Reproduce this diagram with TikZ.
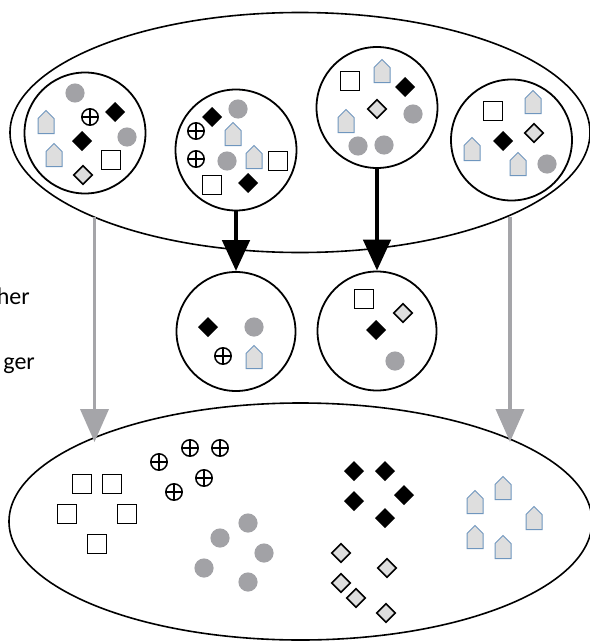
\documentclass[tikz,border=0pt]{standalone}
\usepackage{fontspec}
\setmainfont{Carlito}
\usetikzlibrary{shapes.geometric,arrows.meta}
\definecolor{dotgray}{HTML}{A2A2A6}
\definecolor{arrgray}{HTML}{A5A5A9}
\definecolor{lgray}{HTML}{DEDEDE}
\definecolor{hblue}{HTML}{6F96BE}
\tikzset{
  bigell/.style={ellipse, draw=black, line width=1.6pt, inner sep=0pt},
  grp/.style={circle, draw=black, line width=1.8pt, inner sep=0pt, minimum size=121pt},
  blkarrow/.style={line width=4.8pt, -{Triangle[length=31pt,width=27pt]}},
  grayarrow/.style={draw=arrgray, line width=3.8pt, -{Triangle[length=33pt,width=28pt]}},
  lbl/.style={inner sep=0pt, font=\fontsize{24}{28}\selectfont},
  gdot/.pic={\fill[dotgray] (0,0) circle (9.6);},
  bdia/.pic={\fill[black] (0,-10)--(10,0)--(0,10)--(-10,0)--cycle;},
  ldia/.pic={\filldraw[fill=lgray, draw=black, line width=1.6pt, line join=miter] (0,-9.3)--(9.3,0)--(0,9.3)--(-9.3,0)--cycle;},
  sqr/.pic={\filldraw[fill=white, draw=black, line width=1.8pt] (-9.5,-9.5) rectangle (9.5,9.5);},
  opl/.pic={\filldraw[fill=white, draw=black, line width=1.5pt] (0,0) circle (8.2);
            \draw[line width=1.3pt] (-8.2,0)--(8.2,0) (0,-8.2)--(0,8.2);},
  hse/.pic={\filldraw[fill=lgray, draw=hblue, line width=1pt] (-8,11.5)--(8,11.5)--(8,-3.5)--(0,-11.5)--(-8,-3.5)--cycle;}
}
\begin{document}
\begin{tikzpicture}[x=1pt,y=-1pt]
\useasboundingbox (0,0) rectangle (589,642);

% big ellipses
\node[bigell, minimum width=580pt, minimum height=240pt] (topE) at (300,132.5) {};
\node[bigell, minimum width=583pt, minimum height=237pt] (botE) at (300.5,521.5) {};

% group circles
\node[grp] (C1) at (85,133) {};
\node[grp] (C2) at (236,150) {};
\node[grp] (C3) at (377,107.5) {};
\node[grp] (C4) at (511.5,140) {};
\node[grp, minimum size=119pt] (M1) at (236,331.5) {};
\node[grp, minimum size=119pt] (M2) at (377,331) {};

% connectors
\draw[blkarrow] (C2.south) -- (M1.north);
\draw[blkarrow] (C3.south) -- (M2.north);
\coordinate (g1s) at (94.5,217);
\coordinate (g1e) at (94.5,442);
\coordinate (g2s) at (510,217);
\coordinate (g2e) at (510,442);
\draw[grayarrow] (g1s) -- (g1e);
\draw[grayarrow] (g2s) -- (g2e);

% labels (cut at left edge)
\node[lbl, anchor=base east] (t1) at (30,304) {her};
\node[lbl, anchor=base east] (t2) at (35,369) {ger};

% C1 contents
\pic at (75,93) {gdot};
\pic at (46,122) {hse};
\pic at (90,117) {opl};
\pic at (115,112) {bdia};
\pic at (82,141) {bdia};
\pic at (127,137) {gdot};
\pic at (54,155) {hse};
\pic at (111,160) {sqr};
\pic at (83,175) {ldia};

% C2 contents
\pic at (212,117) {bdia};
\pic at (238,109) {gdot};
\pic at (196,131) {opl};
\pic at (233,134) {hse};
\pic at (196,159) {opl};
\pic at (227,161) {gdot};
\pic at (254,157) {hse};
\pic at (278,161) {sqr};
\pic at (212,185) {sqr};
\pic at (248,183) {bdia};

% C3 contents
\pic at (350,81) {sqr};
\pic at (382,71) {hse};
\pic at (405,87) {bdia};
\pic at (377,109) {ldia};
\pic at (413,114) {gdot};
\pic at (346,121) {hse};
\pic at (358,146) {gdot};
\pic at (384,145) {gdot};

% C4 contents
\pic at (493,111) {sqr};
\pic at (533,102) {hse};
\pic at (503,141) {bdia};
\pic at (534,133) {ldia};
\pic at (472,149) {hse};
\pic at (518,164) {hse};
\pic at (547,164) {gdot};

% M1 contents
\pic at (208,327) {bdia};
\pic at (254,327) {gdot};
\pic at (223,356) {opl};
\pic at (254,357) {hse};

% M2 contents
\pic at (364,299) {sqr};
\pic at (403,313) {ldia};
\pic at (376,330) {bdia};
\pic at (395,361) {gdot};

% bottom ellipse: squares
\pic at (82,484) {sqr};
\pic at (112,484) {sqr};
\pic at (67,514) {sqr};
\pic at (127,514) {sqr};
\pic at (97,544) {sqr};
% circle-plus
\pic at (190,448) {opl};
\pic at (220,448) {opl};
\pic at (159,462) {opl};
\pic at (204,478) {opl};
\pic at (174,492) {opl};
% gray dots
\pic at (248,523) {gdot};
\pic at (220,538) {gdot};
\pic at (264,553) {gdot};
\pic at (204,568) {gdot};
\pic at (248,582) {gdot};
% black diamonds
\pic at (354,471) {bdia};
\pic at (385,471) {bdia};
\pic at (354,501) {bdia};
\pic at (404,495) {bdia};
\pic at (385,518) {bdia};
% light diamonds
\pic at (341,553) {ldia};
\pic at (387,568) {ldia};
\pic at (341,583) {ldia};
\pic at (356,598) {ldia};
\pic at (386,613) {ldia};
% houses
\pic at (503,488) {hse};
\pic at (475,502) {hse};
\pic at (534,518) {hse};
\pic at (475,537) {hse};
\pic at (503,547) {hse};
\end{tikzpicture}
\end{document}
